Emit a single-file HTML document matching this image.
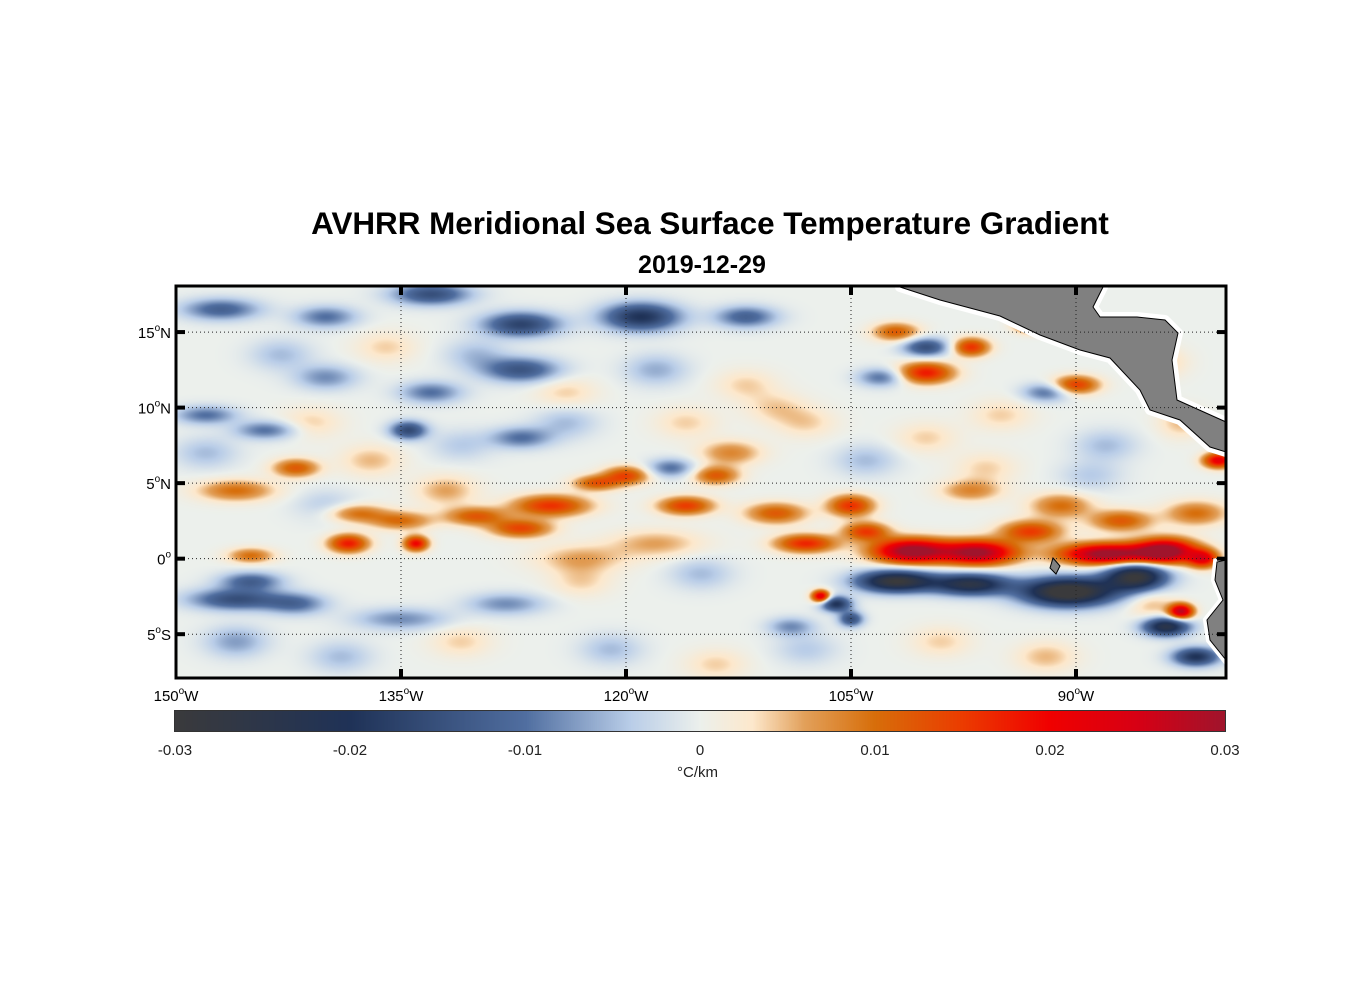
<!DOCTYPE html>
<html><head><meta charset="utf-8">
<style>
body{margin:0;background:#fff;width:1356px;height:1000px;overflow:hidden;font-family:"Liberation Sans",Arial,sans-serif;}
#wrap{position:relative;width:1356px;height:1000px;}
.t{position:absolute;white-space:nowrap;color:#000;}
</style></head>
<body>
<div id="wrap">
<div class="t" style="left:0;width:1420px;text-align:center;top:206px;font-size:31.4px;font-weight:bold;">AVHRR Meridional Sea Surface Temperature Gradient</div>
<div class="t" style="left:0;width:1404px;text-align:center;top:251px;font-size:25px;font-weight:bold;">2019-12-29</div>
<canvas id="map" width="1050" height="392" style="position:absolute;left:176px;top:286px;"></canvas>
<svg id="ov" width="1356" height="1000" style="position:absolute;left:0;top:0;"></svg>
<canvas id="cb" width="1050" height="20" style="position:absolute;left:175px;top:711px;outline:1px solid #333;"></canvas>
<div class="t" style="left:677px;top:764px;font-size:15px;color:#222;">°C/km</div>
</div>
<script>
// ---- data ----
const blobLon=[-147,-140,-133,-127,-119,-112,-127,-133,-140,-148,-144,-134.5,-127,-117,-145,-146,-142,-135,-128,-102,-97,-90.5,-86,-84,-82,-106,-109,-105,-100,-103,-92,
 -146,-142,-138,-138.5,-145,-135,-134,-130,-125,-127,-122,-120,-116,-114,-110,-108,-105,-104,-101,-96.5,-93,-88,-84,-81.5,-83,-107,-100,-97,-93,-102,-90,-80.5,-82,-91,-87,-97,-113,-123,-118,
 -143,-136,-130,-124,-118,-112,-108,-100,-95,-88,-84,-148,-141,-137,-131,-124,-116,-110,-104,-96,-89,-83,-146,-139,-131,-121,-114,-108,-99,-92,-85,-123,-115,-140,-132];
const blobLat=[16.5,16,17.5,15.5,16,16,12.5,11,12,9.5,8.5,8.5,8,6,-1.5,-2.7,-3,-4,-3,-1.5,-1.7,-2.2,-1.2,-4.5,-6.5,-3,-4.5,-4,14,12,11,
 4.5,6,3,1,0.2,2.5,1,2.8,3.5,2,5,5.5,3.5,5.5,3,1,3.5,1.8,0.5,0.4,1.8,0.3,0.5,0,-3.5,-2.5,12.3,14,15.5,15,11.5,6.5,3,3.5,2.5,4.5,7,0,1,
 13.5,14,13.5,11,12.5,11.5,9,8,9.5,7.5,13,7,9,6.5,7.5,9,9,10,6.5,6,5.5,9,-5.5,-6.5,-5.5,-6,-7,-6,-5.5,-6.5,-3,-1.5,-1,3.5,4.5];
const blobVal=[-0.012,-0.01,-0.015,-0.017,-0.02,-0.012,-0.014,-0.01,-0.008,-0.01,-0.01,-0.016,-0.01,-0.01,-0.012,-0.015,-0.01,-0.008,-0.008,-0.03,-0.025,-0.035,-0.03,-0.025,-0.02,-0.02,-0.008,-0.015,-0.015,-0.01,-0.01,
 0.01,0.012,0.01,0.018,0.01,0.01,0.02,0.012,0.016,0.014,0.012,0.014,0.015,0.012,0.012,0.017,0.016,0.015,0.032,0.03,0.015,0.032,0.032,0.02,0.028,0.025,0.018,0.016,0.02,0.012,0.015,0.022,0.01,0.01,0.012,0.008,0.008,0.006,0.006,
 -0.005,0.004,-0.005,0.004,-0.006,0.004,0.004,0.004,0.004,-0.005,0.004,-0.005,0.004,0.005,-0.004,-0.005,0.004,0.004,-0.005,0.004,-0.004,0.005,-0.007,-0.005,0.004,-0.005,0.004,-0.004,0.004,0.005,0.005,0.004,-0.005,-0.004,0.006];
const blobW=[2.5,2,2.5,2.5,2.5,2,2.5,2,2,2,2,1.2,2,1.5,2,3,2,3,2.5,2.5,2.5,3,2,1.5,1.5,1,1.5,0.8,1.5,1.5,1.5,
 2.5,1.5,2,1.3,1.5,2,0.8,2,2.5,2,1.5,1.5,1.8,1.5,2,2,1.5,1.5,2.5,2.5,2,3,2,1,0.8,0.6,1.8,1.2,1,1.5,1.5,1,2,2,2,2,2,3,3,
 2,2,2,2,2,2,2,2,2,2,1.5,2,2,2,2,2,2,2,2,2,2,1.5,2,2,2,2,2,2,2,2,1.5,2,2,2,2];
const blobH=[0.7,0.7,0.7,0.8,0.9,0.7,0.8,0.7,0.8,0.6,0.6,0.6,0.7,0.6,0.6,0.7,0.7,0.7,0.7,0.7,0.7,0.9,0.9,0.6,0.6,0.5,0.6,0.5,0.6,0.6,0.6,
 0.7,0.6,0.6,0.6,0.5,0.6,0.5,0.6,0.7,0.6,0.5,0.6,0.6,0.6,0.7,0.6,0.7,0.6,0.8,0.8,0.7,0.7,0.8,0.6,0.5,0.4,0.7,0.6,0.5,0.6,0.6,0.5,0.8,0.8,0.7,0.7,0.8,0.9,0.9,
 1,1,1,1,1,1,1,1,1,1,1,1,1,1,1,1,1,1,1,1,1,1,1,1,1,1,1,1,1,1,1,1,1,1,1];
const cbTicks=[-0.03,-0.02,-0.01,0,0.01,0.02,0.03];
const cbLabels=["-0.03","-0.02","-0.01","0","0.01","0.02","0.03"];
const lonTicks=[-150,-135,-120,-105,-90];
const lonLabels=["150","135","120","105","90"];
const latTicks=[15,10,5,0,-5];
const latLabels=["15","10","5","0","5"];
const latSuffix=["N","N","N","","S"];
// ---- axes ----
const L0=176,T0=286,W=1050,H=392;
const lonMin=-150,lonMax=-80,latMin=-7.9,latMax=18.05;
const xS=lon=>L0+(lon-lonMin)/(lonMax-lonMin)*W;
const yS=lat=>T0+(latMax-lat)/(latMax-latMin)*H;
const stops=[[-0.03,[58,58,60]],[-0.02,[31,50,87]],[-0.01,[80,110,160]],[-0.004,[185,205,232]],[0,[236,240,236]],[0.003,[253,232,204]],[0.006,[226,160,90]],[0.01,[215,110,10]],[0.015,[235,60,0]],[0.02,[240,0,0]],[0.025,[215,0,20]],[0.03,[160,20,44]]];
function cmap(v){if(v<=stops[0][0])return stops[0][1];for(let i=1;i<stops.length;i++){if(v<=stops[i][0]){const a=stops[i-1],b=stops[i],t=(v-a[0])/(b[0]-a[0]);return a[1].map((c,k)=>c+(b[1][k]-c)*t);}}return stops[stops.length-1][1];}
// heatmap
const cv=document.getElementById('map'),cx=cv.getContext('2d'),img=cx.createImageData(W,H);
for(let py=0;py<H;py++){const lat=latMax-(py+0.5)/H*(latMax-latMin);
 for(let px=0;px<W;px++){const lon=lonMin+(px+0.5)/W*(lonMax-lonMin);let f=0;
  for(let i=0;i<blobLon.length;i++){const dx=(lon-blobLon[i])/blobW[i],dy=(lat-blobLat[i])/blobH[i];const d=dx*dx+dy*dy;if(d<9)f+=blobVal[i]*Math.exp(-d);}
  const c=cmap(f),o=(py*W+px)*4;img.data[o]=c[0];img.data[o+1]=c[1];img.data[o+2]=c[2];img.data[o+3]=255;}}
cx.putImageData(img,0,0);
// colorbar
const cb=document.getElementById('cb').getContext('2d');
for(let x=0;x<1050;x++){const c=cmap(-0.03+x/1049*0.06);cb.fillStyle=`rgb(${c.map(Math.round)})`;cb.fillRect(x,0,1,20);}
// overlay
const NS='http://www.w3.org/2000/svg',ov=document.getElementById('ov');
function mk(tag,at,name){const e=document.createElementNS(NS,tag);for(const k in at)e.setAttribute(k,at[k]);


ov.appendChild(e);return e;}
// land
const caPts="900,287 940,300 1000,316 1040,335 1080,350 1110,358 1140,390 1150,410 1180,420 1210,447 1226,452 1226,422 1177,400 1172,360 1178,333 1165,320 1137,317 1100,317 1093,307 1103,287";
mk('polygon',{points:caPts,fill:'#fff',stroke:'#fff','stroke-width':10,'stroke-linejoin':'round'},'central-america-halo');
mk('polygon',{points:caPts,fill:'#808080',stroke:'#000','stroke-width':1},'central-america-land');
const saPts="1226,560 1217,562 1215,580 1223,600 1207,620 1210,640 1226,660";
mk('polygon',{points:saPts,fill:'#fff',stroke:'#fff','stroke-width':8},'south-america-halo');
mk('polygon',{points:saPts,fill:'#808080',stroke:'#000','stroke-width':1},'south-america-land');
mk('polygon',{points:"1053,558 1060,566 1056,574 1050,568",fill:'#808080',stroke:'#000','stroke-width':1},'galapagos-land');
// grid & ticks
lonTicks.forEach((v,i)=>{const x=xS(v);
 if(i>0){mk('line',{x1:x,y1:T0,x2:x,y2:T0+H,stroke:'#222','stroke-width':1,'stroke-dasharray':'1,3'},'lon-gridline');
 mk('line',{x1:x,y1:T0,x2:x,y2:T0+9,stroke:'#000','stroke-width':4},'lon-tick-top');
 mk('line',{x1:x,y1:T0+H-9,x2:x,y2:T0+H,stroke:'#000','stroke-width':4},'lon-tick-bottom');}
 const t=mk('text',{x:x,y:701,'font-size':15,'text-anchor':'middle','font-family':'Liberation Sans'},'lon-tick-label');
 t.innerHTML=lonLabels[i]+'<tspan font-size="10" dy="-7">o</tspan><tspan dy="7">W</tspan>';});
latTicks.forEach((v,i)=>{const y=yS(v);
 mk('line',{x1:L0,y1:y,x2:L0+W,y2:y,stroke:'#222','stroke-width':1,'stroke-dasharray':'1,3'},'lat-gridline');
 mk('line',{x1:L0,y1:y,x2:L0+9,y2:y,stroke:'#000','stroke-width':4},'lat-tick-left');
 mk('line',{x1:L0+W-9,y1:y,x2:L0+W,y2:y,stroke:'#000','stroke-width':4},'lat-tick-right');
 const t=mk('text',{x:171,y:y+6,'font-size':15,'text-anchor':'end','font-family':'Liberation Sans'},'lat-tick-label');
 t.innerHTML=latLabels[i]+'<tspan font-size="10" dy="-7">o</tspan><tspan dy="7">'+latSuffix[i]+'</tspan>';});
mk('rect',{x:L0,y:T0,width:W,height:H,fill:'none',stroke:'#000','stroke-width':3},'map-frame');
// colorbar ticks
cbTicks.forEach((v,i)=>{const x=175+(v+0.03)/0.06*1050;
 mk('line',{x1:x,y1:721,x2:x,y2:731,stroke:'#222','stroke-width':1},'colorbar-tick');
 const t=mk('text',{x:x,y:755,'font-size':15,'text-anchor':'middle','fill':'#222','font-family':'Liberation Sans'},'colorbar-tick-label');
 t.textContent=cbLabels[i];});
</script>
</body></html>
